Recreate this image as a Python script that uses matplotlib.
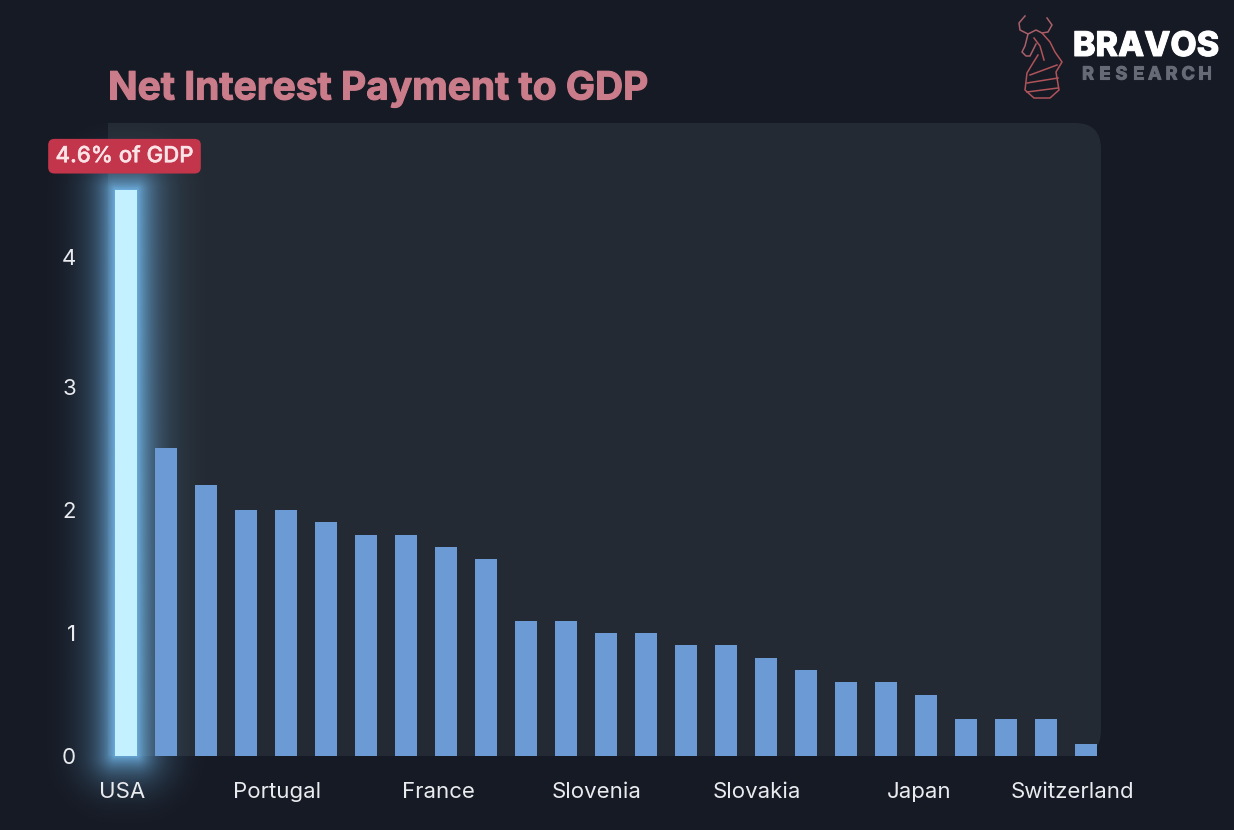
#!/usr/bin/env python
# -*- coding: utf-8 -*-

import numpy as np
import matplotlib
matplotlib.use("Agg")
import matplotlib.pyplot as plt
import matplotlib.patheffects as pe
from matplotlib.patches import FancyBboxPatch, Rectangle
from matplotlib.transforms import ScaledTranslation

# Donnees
values = [4.6, 2.5, 2.2, 2.0, 2.0, 1.9, 1.8, 1.8, 1.7, 1.6, 1.1, 1.1, 1.0,
          1.0, 0.9, 0.9, 0.8, 0.7, 0.6, 0.6, 0.5, 0.3, 0.3, 0.3, 0.1]
x_ticks = [0, 4, 8, 12, 16, 20, 24]
x_labels = ["USA", "Portugal", "France", "Slovenia", "Slovakia", "Japan", "Switzerland"]
y_ticks = [0, 1, 2, 3, 4]

W, H = 1234, 830
BG = "#161a24"
PANEL = "#242a33"
BAR = "#6c9ad4"
TXT = "#e9ebef"
PINK = "#cb7c8a"

plt.rcParams["font.family"] = ["Inter", "DejaVu Sans"]

fig = plt.figure(figsize=(W / 100, H / 100), dpi=100, facecolor=BG)


def fat(width, color):
    # Inter n'a pas de vraie graisse bold ici, on epaissit avec un contour
    return [pe.withStroke(linewidth=width, foreground=color)]


# Fond en coordonnees pixels (panneau + logo)
bg = fig.add_axes([0, 0, 1, 1], zorder=0)
bg.set_xlim(0, W)
bg.set_ylim(H, 0)
bg.axis("off")
bg.add_patch(FancyBboxPatch((108, 123), 993, 633, boxstyle="round,pad=0,rounding_size=26",
                            fc=PANEL, ec="none"))
bg.add_patch(Rectangle((108, 123), 120, 633, fc=PANEL, ec="none"))

bg.text(108, 89, "Net Interest Payment to GDP", color=PINK, fontsize=28,
        fontweight="bold", va="center", ha="left", path_effects=fat(0.8, PINK))

# Logo : taureau / cavalier, trace a la main
logo_lines = [
    [(1025, 16), (1019, 23), (1020, 30), (1028, 34), (1036, 30), (1042, 33), (1048, 32), (1052, 25), (1047, 18)],
    [(1028, 34), (1025, 46), (1022, 52), (1026, 56), (1030, 56), (1036, 44)],
    [(1042, 33), (1050, 42), (1055, 52), (1062, 62), (1056, 72), (1059, 90), (1050, 98), (1034, 98), (1025, 90), (1027, 73), (1033, 63), (1038, 55)],
    [(1030, 75), (1057, 65)],
    [(1027, 83), (1058, 78)],
    [(1027, 92), (1058, 88)],
    [(1034, 38), (1040, 46), (1044, 60)],
]
for i, line in enumerate(logo_lines):
    xs, ys = zip(*line)
    bg.plot(xs, ys, color="#a8606a" if i < 2 else "#b0535a", lw=1.1, solid_joinstyle="round")

bg.text(1146, 47, "BRAVOS", color="white", fontsize=24.5, fontweight="heavy",
        ha="center", va="center", path_effects=fat(0.7, "white"))
for i, ch in enumerate("RESEARCH"):
    bg.text(1088 + i * 16.7, 75, ch, color="#666a77", fontsize=13, fontweight="bold",
            ha="center", va="center", path_effects=fat(0.8, "#666a77"))

# Le graphique
ax = fig.add_axes([108 / W, (H - 756) / H, 993 / W, 633 / H], zorder=1)
ax.patch.set_alpha(0)
xmin, xmax = (108 - 125.5) / 40, (1101 - 125.5) / 40
ymax = 633 / 123
ax.set_xlim(xmin, xmax)
ax.set_ylim(0, ymax)

# Halo autour de la barre USA
half_w = 0.275
gx = np.linspace(-2.2, 2.2, 360)
gy = np.linspace(-0.62, values[0] + 0.62, 700)
xx, yy = np.meshgrid(gx, gy)
dx = np.maximum(np.abs(xx) - half_w, 0) * 40
dy = np.maximum(np.maximum(yy - values[0], -yy), 0) * 123
dist = np.hypot(dx, dy)
rgba = np.zeros(xx.shape + (4,))
rgba[..., :3] = matplotlib.colors.to_rgb("#74bdf2")
fade = np.clip(1 - dist / 74.0, 0, 1)
rgba[..., 3] = (0.50 * np.exp(-dist / 20.0) + 0.38 * np.exp(-dist / 42.0)) * fade
ax.imshow(rgba, extent=(gx[0], gx[-1], gy[0], gy[-1]), origin="lower", aspect="auto",
          zorder=1, clip_on=False, interpolation="bilinear")
ax.set_xlim(xmin, xmax)
ax.set_ylim(0, ymax)

colors = ["#c4f1ff"] + [BAR] * (len(values) - 1)
ax.bar(range(len(values)), values, width=0.55, color=colors, zorder=2)

for spine in ax.spines.values():
    spine.set_visible(False)

ax.set_xticks(x_ticks)
ax.set_xticklabels(x_labels)
ax.set_yticks(y_ticks)
ax.tick_params(axis="both", length=0, labelsize=16, labelcolor=TXT)
ax.tick_params(axis="x", pad=19)
ax.tick_params(axis="y", pad=23)

# Les etiquettes ne sont pas centrees sur les barres dans l'original
shifts = [-3, -8, -7, -9, -9, -6, -13]
for lab, dpx in zip(ax.get_xticklabels(), shifts):
    lab.set_transform(lab.get_transform() + ScaledTranslation(dpx / 100, 0, fig.dpi_scale_trans))
ylab4 = ax.get_yticklabels()[-1]
ylab4.set_transform(ylab4.get_transform() + ScaledTranslation(0, 7 / 100, fig.dpi_scale_trans))

# Etiquette rouge
ax.annotate("4.6% of GDP", xy=(0, values[0]), xytext=(-1, 34), textcoords="offset pixels",
            ha="center", va="center", color="#fbe4e7", fontsize=16, fontweight="medium",
            annotation_clip=False, zorder=5, path_effects=fat(0.3, "#fbe4e7"),
            bbox=dict(boxstyle="round,pad=0.33,rounding_size=0.28", fc="#c2354a", ec="none"))

fig.savefig("out.png", dpi=100, facecolor=BG)
